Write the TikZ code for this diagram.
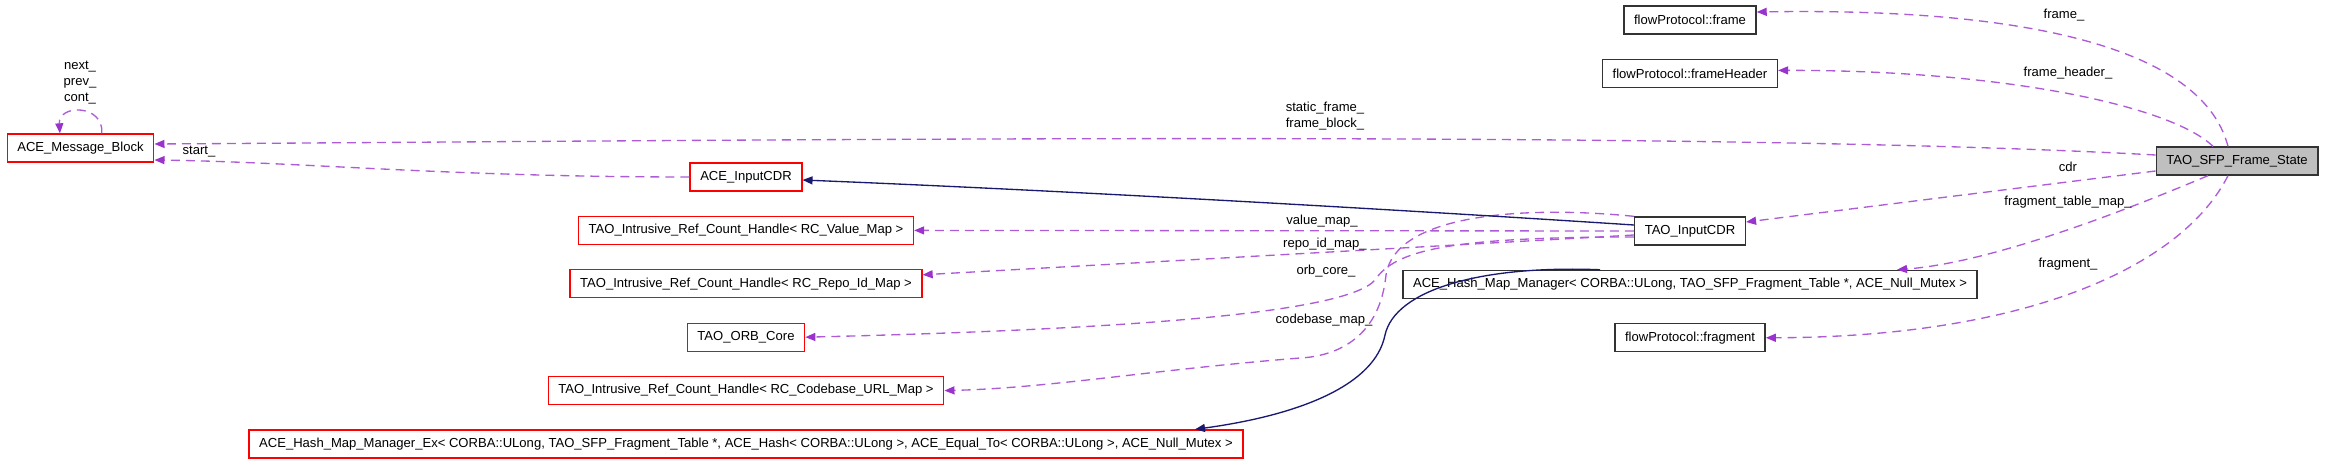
\documentclass[tikz,border=0pt]{standalone}
\usepackage{fontspec}
\setmainfont{Liberation Sans}
\usetikzlibrary{arrows.meta,positioning}
\definecolor{usecol}{HTML}{9A32CD}
\definecolor{inhcol}{HTML}{191970}
\definecolor{focusgray}{HTML}{BFBFBF}
\tikzstyle{cls} = [rectangle, draw=black!80, line width=1pt, inner xsep=7.6pt,
    inner ysep=0pt, minimum height=21pt]
\tikzstyle{trunc} = [cls, draw=red]
\tikzstyle{focus} = [cls, fill=focusgray]
\tikzstyle{use} = [-{Triangle[length=7.5pt,width=6pt,color=usecol]}, draw=usecol!80!white,
    line width=1pt, dash pattern=on 6.75pt off 4.5pt]
\tikzstyle{inherit} = [->, draw=inhcol, line width=1pt]
\tikzstyle{lbl} = [inner sep=0pt, align=center]

\begin{document}
\begin{tikzpicture}[x=0.75pt,y=-0.75pt,>={Triangle[length=7.5pt,width=6pt]},
                    node distance=40.05pt,font=\fontsize{9.8}{12}\selectfont]
  \useasboundingbox (0,0) rectangle (2325,464);

  % classes, one column per rank
  \node[trunc]  (msgblock) at (80.5,148) {ACE\_Message\_Block};

  \node[trunc]  (inputcdr) at (746,177)    {ACE\_InputCDR};
  \node[trunc]  (valuemap) [below of=inputcdr] {TAO\_Intrusive\_Ref\_Count\_Handle< RC\_Value\_Map >};
  \node[trunc]  (repomap)  [below of=valuemap] {TAO\_Intrusive\_Ref\_Count\_Handle< RC\_Repo\_Id\_Map >};
  \node[trunc]  (orbcore)  [below of=repomap]  {TAO\_ORB\_Core};
  \node[trunc]  (codebase) [below of=orbcore]  {TAO\_Intrusive\_Ref\_Count\_Handle< RC\_Codebase\_URL\_Map >};
  \node[trunc]  (hashex)   [below of=codebase] {ACE\_Hash\_Map\_Manager\_Ex< CORBA::ULong, TAO\_SFP\_Fragment\_Table *, ACE\_Hash< CORBA::ULong >, ACE\_Equal\_To< CORBA::ULong >, ACE\_Null\_Mutex >};

  \node[cls]    (frame)    at (1690,20)    {flowProtocol::frame};
  \node[cls]    (framehdr) [below of=frame]    {flowProtocol::frameHeader};
  \node[cls]    (taocdr)   at (1690,231)   {TAO\_InputCDR};
  \node[cls]    (hashmap)  [below of=taocdr]   {ACE\_Hash\_Map\_Manager< CORBA::ULong, TAO\_SFP\_Fragment\_Table *, ACE\_Null\_Mutex >};
  \node[cls]    (fragment) [below of=hashmap]  {flowProtocol::fragment};

  \node[focus]  (sfp)      at (2237,161)   {TAO\_SFP\_Frame\_State};

  % members of TAO_SFP_Frame_State
  \draw[use] ([xshift=-6.75pt]sfp.north) .. controls (2200,40) and (2000,8) .. ([yshift=6pt]frame.east);
  \draw[use] ([xshift=-18pt]sfp.north) .. controls (2170,105) and (2000,70) .. ([yshift=2.25pt]framehdr.east);
  \draw[use] ([yshift=4.5pt]sfp.west) .. controls (1700,130) and (800,140) .. ([yshift=3pt]msgblock.east);
  \draw[use] ([xshift=-21.75pt]sfp.south) .. controls (2150,200) and (2000,262) .. ([xshift=155.25pt]hashmap.north);
  \draw[use] ([xshift=-6.75pt]sfp.south) .. controls (2180,270) and (2020,337) .. (fragment.east);
  \path ([yshift=-7.5pt]sfp.west) edge[use] ([yshift=6.75pt]taocdr.east);

  \node[lbl] at (2064,15)  {frame\_};
  \node[lbl] at (2068,73)  {frame\_header\_};
  \node[lbl] at (1325,116) {static\_frame\_\\frame\_block\_};
  \node[lbl] at (2068,167) {cdr};
  \node[lbl] at (2068,202) {fragment\_table\_map\_};
  \node[lbl] at (2068,264) {fragment\_};

  % members of TAO_InputCDR
  \path (taocdr.west) edge[use] (valuemap.east)
        ([yshift=-3pt]taocdr.west) edge[use] ([yshift=6.75pt]repomap.east);
  \draw[use] ([yshift=-4.5pt]taocdr.west) .. controls (1450,237) and (1395,250) .. (1375,280)
             .. controls (1345,315) and (1100,330) .. (orbcore.east);
  \draw[use] (taocdr.north west) .. controls (1520,205) and (1395,215) .. (1386,275)
             .. controls (1380,335) and (1340,356) .. (1300,358)
             .. controls (1150,370) and (1050,388) .. (codebase.east);

  \node[lbl] at (1322,221) {value\_map\_};
  \node[lbl] at (1325,244) {repo\_id\_map\_};
  \node[lbl] at (1326,271) {orb\_core\_};
  \node[lbl] at (1324,320) {codebase\_map\_};

  % base classes
  \draw[inherit] ([yshift=4.5pt]taocdr.west) .. controls (1450,213) and (1100,192) .. ([yshift=-2.25pt]inputcdr.east);
  \draw[inherit] ([xshift=-67.5pt]hashmap.north) .. controls (1480,265) and (1395,290) .. (1385,335)
                 .. controls (1375,385) and (1300,415) .. ([xshift=336.75pt]hashex.north);

  % ACE_Message_Block
  \draw[use] (inputcdr.west) .. controls (450,177) and (300,162) .. ([yshift=-9pt]msgblock.east);
  \draw[use] ([xshift=16pt]msgblock.north) .. controls (104,104) and (58,104) .. ([xshift=-15.4pt]msgblock.north);
  \node[lbl] at (199,152) {start\_};
  \node[lbl] at (80,83)   {\fontsize{9.8}{13}\selectfont next\_\\prev\_\\cont\_};
\end{tikzpicture}
\end{document}
